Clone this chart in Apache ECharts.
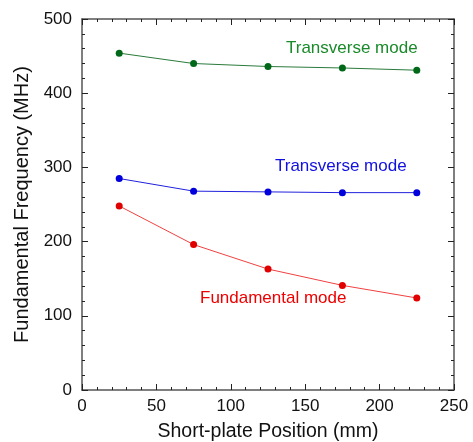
<!DOCTYPE html>
<html><head><meta charset="utf-8">
<script src="https://cdn.jsdelivr.net/npm/echarts@6/dist/echarts.min.js"></script>
<style>html,body{margin:0;padding:0;background:#fff}#c{width:473px;height:442px}</style>
</head><body><div id="c"></div>
<script>
const positions = [25, 75, 125, 175, 225];
const transverseHigh = [454, 440, 436, 434, 431];
const transverseLow = [285, 268, 267, 266, 266];
const fundamental = [248, 196, 163, 141, 124];
const xTicks = [0, 50, 100, 150, 200, 250];
const yTicks = [0, 100, 200, 300, 400, 500];

const font = 'Liberation Sans, Arial, sans-serif';
const labelFont = 'Liberation Sans, Arial, sans-serif';
const chart = echarts.init(document.getElementById('c'));
function axisCommon() {
  return {
    axisLine: {show: true, onZero: false, lineStyle: {color: '#555', width: 1.5}},
    axisTick: {show: true, inside: true, length: 6, lineStyle: {color: '#222', width: 1}},
    minorTick: {show: true, splitNumber: 5, length: 3, lineStyle: {color: '#222', width: 1}},
    splitLine: {show: false}
  };
}
function mk(name, data, color, lineColor) {
  return {
    name: name, type: 'line', xAxisIndex: 0, yAxisIndex: 0,
    data: positions.map((p, i) => [p, data[i]]),
    symbol: 'circle', symbolSize: 7,
    itemStyle: {color: color},
    lineStyle: {color: lineColor, width: 1},
    animation: false
  };
}
chart.setOption({
  animation: false,
  grid: {left: 82, right: 19, top: 19, bottom: 52, containLabel: false, outerBoundsMode: 'none'},
  xAxis: [
    Object.assign(axisCommon(), {type: 'value', min: 0, max: 250, interval: 50, position: 'bottom',
      name: 'Short-plate Position (mm)', nameLocation: 'middle', nameGap: 32,
      nameTextStyle: {fontSize: 19.5, color: '#111', fontFamily: font},
      axisLabel: {fontSize: 17, color: '#111', fontFamily: font, margin: 8}}),
    Object.assign(axisCommon(), {type: 'value', min: 0, max: 250, interval: 50, position: 'top',
      axisLabel: {show: false}})
  ],
  yAxis: [
    Object.assign(axisCommon(), {type: 'value', min: 0, max: 500, interval: 100, position: 'left',
      name: 'Fundamental Frequency (MHz)', nameLocation: 'middle', nameGap: 50,
      nameTextStyle: {fontSize: 20, color: '#111', fontFamily: font},
      axisLabel: {fontSize: 17, color: '#111', fontFamily: font, margin: 10}}),
    Object.assign(axisCommon(), {type: 'value', min: 0, max: 500, interval: 100, position: 'right',
      axisLabel: {show: false}})
  ],
  series: [
    mk('Transverse mode high', transverseHigh, '#006818', '#2a7a3a'),
    mk('Transverse mode', transverseLow, '#0000dd', '#2020dd'),
    mk('Fundamental mode', fundamental, '#e00000', '#f04040')
  ],
  graphic: [
    {type: 'text', left: 286, top: 40, style: {text: 'Transverse mode', fill: '#1a8a2a', font: '17px ' + labelFont}},
    {type: 'text', left: 275, top: 158, style: {text: 'Transverse mode', fill: '#1010e0', font: '17px ' + labelFont}},
    {type: 'text', left: 200, top: 290, style: {text: 'Fundamental mode', fill: '#ee0000', font: '17px ' + labelFont}}
  ]
});
</script></body></html>
